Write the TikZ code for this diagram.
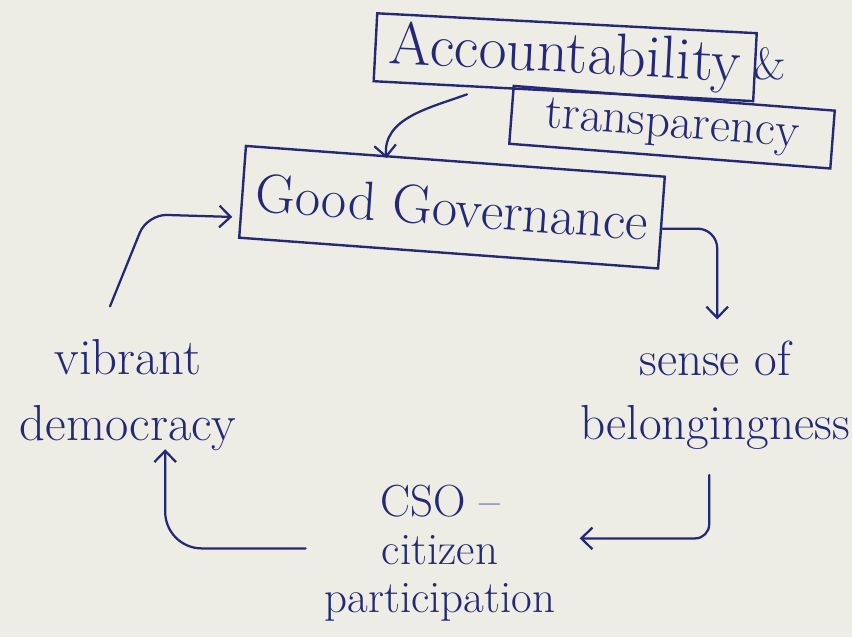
\documentclass[tikz,border=0pt]{standalone}
\usepackage{fontspec}
\usetikzlibrary{arrows.meta}
\definecolor{ink}{RGB}{36,40,118}
\definecolor{paper}{RGB}{237,236,229}
\newcommand{\hand}[2]{\fontsize{#1}{#2}\selectfont}

\begin{document}
\begin{tikzpicture}[
    box/.style={draw=ink, line width=1.7pt, text=ink, inner sep=0pt, align=center},
    note/.style={text=ink, inner sep=2pt, align=center},
    flow/.style={draw=ink, line width=1.6pt, line cap=round,
        -{Straight Barb[length=2.8mm, width=5.4mm]}}
]
\fill[paper] (0,0) rectangle (21.3,-15.925);
\useasboundingbox (0,0) rectangle (21.3,-15.925);
\node[box, rotate=-3, minimum width=9.5cm, minimum height=1.7cm,
    font=\hand{43}{50}] (acc) at (14.13,-1.43) {Accountability};
\node[note, font=\hand{32}{36}] (amp) at (19.25,-1.6) {\&};
\node[box, rotate=-4.4, minimum width=8.05cm, minimum height=1.45cm,
    font=\hand{35}{40}] (trans) at (16.8,-3.18) {transparency};
\node[box, rotate=-4.2, minimum width=10.5cm, minimum height=2.3cm,
    font=\hand{39}{46}] (gg) at (11.3,-5.18) {Good Governance};
\node[note, font=\hand{35}{46}] (sense) at (17.88,-9.88) {sense of\\belongingness};
\node[note, font=\hand{32}{34}] (cso) at (11.0,-13.83)
    {CSO --\\citizen\\participation};
\node[note, font=\hand{36}{47}] (demo) at (3.2,-9.88) {vibrant\\democracy};
\draw[flow] ([xshift=-2.41cm,yshift=-0.05cm]acc.south) to[out=200,in=95]
    ([xshift=-1.73cm,yshift=0.05cm]gg.north);
\draw[flow, rounded corners=14pt] ([yshift=-0.15cm]gg.east)
    -| ([xshift=0.05cm,yshift=0.45cm]sense.north);
\draw[flow, rounded corners=10pt] ([xshift=-0.15cm,yshift=-0.55cm]sense.south)
    |- ([xshift=0.53cm,yshift=0.37cm]cso.east);
\draw[flow, rounded corners=26pt] ([xshift=-0.4cm,yshift=0.12cm]cso.west)
    -| ([xshift=0.93cm,yshift=0.12cm]demo.south);
\draw[flow, rounded corners=14pt] ([xshift=-0.45cm,yshift=0.75cm]demo.north)
    -- ++(0.93,2.3) -- ([xshift=-0.23cm,yshift=-0.63cm]gg.west);
\end{tikzpicture}
\end{document}
